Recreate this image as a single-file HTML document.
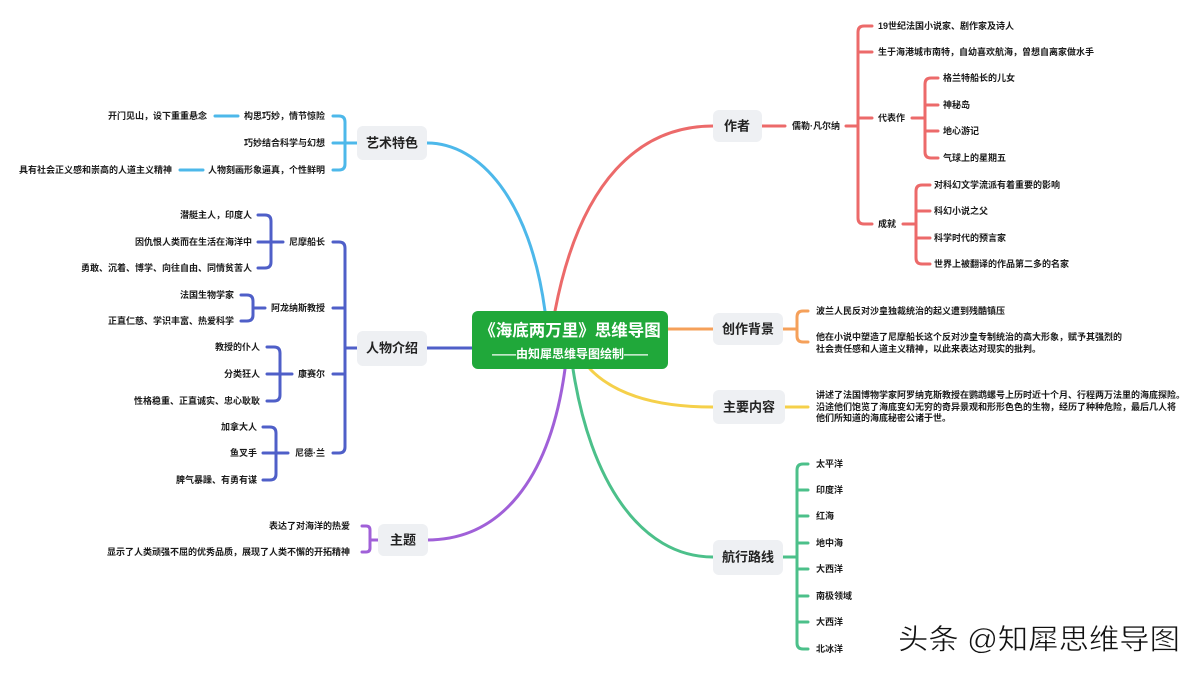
<!DOCTYPE html>
<html><head><meta charset="utf-8"><style>
html,body{margin:0;padding:0;background:#fff;}
svg{display:block;}
text{font-family:"Liberation Sans","Noto Sans CJK SC",sans-serif;}
.t{font-size:9px;font-weight:bold;fill:#1a1a1a;dominant-baseline:central;}
.m{font-size:13px;font-weight:bold;fill:#222;dominant-baseline:central;text-anchor:middle;}
.box{fill:#eef0f3;}
</style></head><body>
<svg width="1200" height="675" viewBox="0 0 1200 675" xmlns="http://www.w3.org/2000/svg">
<g fill="none" stroke-width="3" stroke-linecap="round">
<path d="M555 311 C580 180 640 126 713 126" stroke="#ec6a6a"/>
<path d="M545 311 C530 200 480 143 427 143" stroke="#4db8ea"/>
<path d="M472 348 H427" stroke="#4f5fc8"/>
<path d="M565 369 C550 480 500 540 427 540" stroke="#a060d8"/>
<path d="M573 369 C590 480 640 557 713 557" stroke="#4cc08a"/>
<path d="M590 369 C620 400 670 407 713 407" stroke="#f5d04a"/>
<path d="M668 329 H713" stroke="#f5a05a"/>
<g stroke="#ec6a6a">
<path d="M762 126 H785 M846 126 H858"/>
<path d="M872 26 H864 Q858 26 858 32 V218 Q858 224 864 224 H872 M858 52 H872 M858 118 H872"/>
<path d="M912 118 H925 M938 78 H931 Q925 78 925 84 V152 Q925 158 931 158 H938 M925 105 H938 M925 131 H938"/>
<path d="M903 224 H916 M930 185 H922 Q916 185 916 191 V258 Q916 264 922 264 H930 M916 211 H930 M916 238 H930"/>
</g>
<g stroke="#f5a05a"><path d="M783 329 H797 M808 311 H803 Q797 311 797 317 V336 Q797 342 803 342 H808"/></g>
<g stroke="#f5d04a"><path d="M785 407 H808"/></g>
<g stroke="#4cc08a"><path d="M783 557 H797 M808 464 H803 Q797 464 797 470 V643 Q797 649 803 649 H808 M797 490 H808 M797 516 H808 M797 543 H808 M797 569 H808 M797 596 H808 M797 622 H808"/></g>
<g stroke="#4db8ea"><path d="M357 143 H345 M333 116 H339 Q345 116 345 122 V164 Q345 170 339 170 H333 M345 143 H333 M215 116 H238 M180 170 H203"/></g>
<g stroke="#4f5fc8">
<path d="M357 348 H345 M333 242 H339 Q345 242 345 248 V447 Q345 453 339 453 H333 M345 308 H333 M345 374 H333"/>
<path d="M283 242 H271 M258 215 H265 Q271 215 271 221 V262 Q271 268 265 268 H258 M271 242 H258"/>
<path d="M265 308 H253 M241 295 H247 Q253 295 253 301 V315 Q253 321 247 321 H241"/>
<path d="M292 374 H280 M267 347 H274 Q280 347 280 353 V395 Q280 401 274 401 H267 M280 374 H267"/>
<path d="M288 453 H276 M263 427 H270 Q276 427 276 433 V474 Q276 480 270 480 H263 M276 453 H263"/>
</g>
<g stroke="#a060d8"><path d="M378 540 H370 M362 526 H366 Q370 526 370 530 V548 Q370 552 366 552 H362"/></g>
</g>
<rect x="472" y="311" width="196" height="58" rx="6" fill="#20a83a"/>
<text x="570" y="331" text-anchor="middle" dominant-baseline="central" font-size="16.5" font-weight="bold" fill="#fff">《海底两万里》思维导图</text>
<text x="570" y="354" text-anchor="middle" dominant-baseline="central" font-size="12" font-weight="bold" fill="#fff">——由知犀思维导图绘制——</text>
<rect class="box" x="357" y="126" width="70" height="34" rx="6"/><text class="m" x="392" y="143">艺术特色</text>
<rect class="box" x="357" y="331" width="70" height="35" rx="6"/><text class="m" x="392" y="348">人物介绍</text>
<rect class="box" x="378" y="524" width="50" height="32" rx="6"/><text class="m" x="403" y="540">主题</text>
<rect class="box" x="713" y="110" width="49" height="32" rx="6"/><text class="m" x="737" y="126">作者</text>
<rect class="box" x="713" y="313" width="70" height="32" rx="6"/><text class="m" x="748" y="329">创作背景</text>
<rect class="box" x="713" y="390" width="72" height="34" rx="6"/><text class="m" x="749" y="407">主要内容</text>
<rect class="box" x="713" y="540" width="70" height="35" rx="6"/><text class="m" x="748" y="557">航行路线</text>
<text class="t" x="792" y="126">儒勒·凡尔纳</text>
<text class="t" x="878" y="26">19世纪法国小说家、剧作家及诗人</text>
<text class="t" x="878" y="52">生于海港城市南特，自幼喜欢航海，曾想自离家做水手</text>
<text class="t" x="878" y="118">代表作</text>
<text class="t" x="878" y="224">成就</text>
<text class="t" x="943" y="78">格兰特船长的儿女</text>
<text class="t" x="943" y="105">神秘岛</text>
<text class="t" x="943" y="131">地心游记</text>
<text class="t" x="943" y="158">气球上的星期五</text>
<text class="t" x="934" y="185">对科幻文学流派有着重要的影响</text>
<text class="t" x="934" y="211">科幻小说之父</text>
<text class="t" x="934" y="238">科学时代的预言家</text>
<text class="t" x="934" y="264">世界上被翻译的作品第二多的名家</text>
<text class="t" x="816" y="311">波兰人民反对沙皇独裁统治的起义遭到残酷镇压</text>
<text class="t" x="816" y="337">他在小说中塑造了尼摩船长这个反对沙皇专制统治的高大形象，赋予其强烈的</text>
<text class="t" x="816" y="349">社会责任感和人道主义精神，以此来表达对现实的批判。</text>
<text class="t" x="816" y="395" font-size="8.6">讲述了法国博物学家阿罗纳克斯教授在鹦鹉螺号上历时近十个月、行程两万法里的海底探险。</text>
<text class="t" x="816" y="407" font-size="8.6">沿途他们饱览了海底变幻无穷的奇异景观和形形色色的生物，经历了种种危险，最后几人将</text>
<text class="t" x="816" y="418" font-size="8.6">他们所知道的海底秘密公诸于世。</text>
<text class="t" x="816" y="464">太平洋</text>
<text class="t" x="816" y="490">印度洋</text>
<text class="t" x="816" y="516">红海</text>
<text class="t" x="816" y="543">地中海</text>
<text class="t" x="816" y="569">大西洋</text>
<text class="t" x="816" y="596">南极领域</text>
<text class="t" x="816" y="622">大西洋</text>
<text class="t" x="816" y="649">北冰洋</text>
<g text-anchor="end">
<text class="t" x="325" y="116">构思巧妙，情节惊险</text>
<text class="t" x="325" y="143">巧妙结合科学与幻想</text>
<text class="t" x="325" y="170">人物刻画形象逼真，个性鲜明</text>
<text class="t" x="207" y="116">开门见山，设下重重悬念</text>
<text class="t" x="172" y="170">具有社会正义感和崇高的人道主义精神</text>
<text class="t" x="325" y="242">尼摩船长</text>
<text class="t" x="325" y="308">阿龙纳斯教授</text>
<text class="t" x="325" y="374">康赛尔</text>
<text class="t" x="325" y="453">尼德·兰</text>
<text class="t" x="252" y="215">潜艇主人，印度人</text>
<text class="t" x="252" y="242">因仇恨人类而在生活在海洋中</text>
<text class="t" x="252" y="268">勇敢、沉着、博学、向往自由、同情贫苦人</text>
<text class="t" x="234" y="295">法国生物学家</text>
<text class="t" x="234" y="321">正直仁慈、学识丰富、热爱科学</text>
<text class="t" x="260" y="347">教授的仆人</text>
<text class="t" x="260" y="374">分类狂人</text>
<text class="t" x="260" y="401">性格稳重、正直诚实、忠心耿耿</text>
<text class="t" x="257" y="427">加拿大人</text>
<text class="t" x="257" y="453">鱼叉手</text>
<text class="t" x="257" y="480">脾气暴躁、有勇有谋</text>
<text class="t" x="350" y="526">表达了对海洋的热爱</text>
<text class="t" x="350" y="552">显示了人类顽强不屈的优秀品质，展现了人类不懈的开拓精神</text>
</g>
<text x="898" y="640" dominant-baseline="central" font-size="28.5" fill="#111" stroke="#fff" stroke-width="0.5" textLength="282" lengthAdjust="spacingAndGlyphs">头条 @知犀思维导图</text>
</svg>
</body></html>
